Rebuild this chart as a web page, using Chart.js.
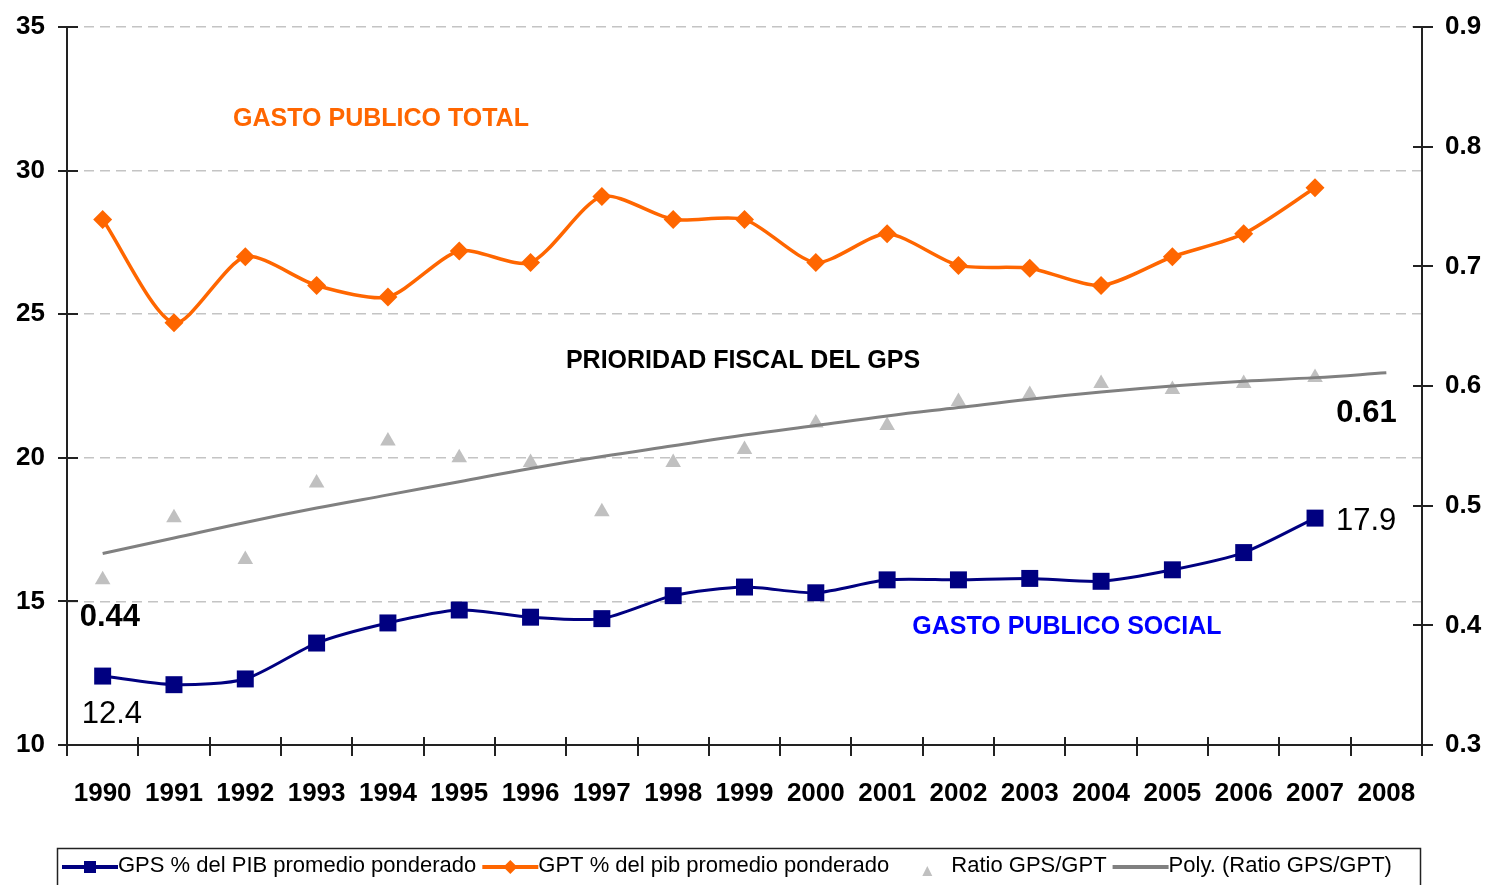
<!DOCTYPE html>
<html>
<head>
<meta charset="utf-8">
<script src="https://cdn.jsdelivr.net/npm/chart.js@4.4.1/dist/chart.umd.min.js"></script>
<style>
  html, body { margin: 0; padding: 0; background: #fff; }
  #wrap { width: 1490px; height: 885px; }
</style>
</head>
<body>
<div id="wrap"><canvas id="c" width="1490" height="885"></canvas></div>
<script>
// ---- Data ----
const years = ['1990','1991','1992','1993','1994','1995','1996','1997','1998','1999','2000','2001','2002','2003','2004','2005','2006','2007','2008'];
const gps = [12.4, 12.1, 12.3, 13.55, 14.25, 14.7, 14.45, 14.4, 15.2, 15.5, 15.3, 15.75, 15.75, 15.8, 15.7, 16.1, 16.7, 17.9, null];
const gpt = [28.3, 24.7, 27.0, 26.0, 25.6, 27.2, 26.8, 29.1, 28.3, 28.3, 26.8, 27.8, 26.7, 26.6, 26.0, 27.0, 27.8, 29.4, null];
const ratio = [0.438, 0.49, 0.455, 0.519, 0.554, 0.54, 0.536, 0.495, 0.536, 0.547, 0.569, 0.567, 0.587, 0.593, 0.602, 0.597, 0.602, 0.607, null];
const polyRatio = [0.46, 0.473, 0.486, 0.498, 0.509, 0.52, 0.531, 0.541, 0.55, 0.559, 0.567, 0.575, 0.582, 0.589, 0.595, 0.6, 0.604, 0.607, 0.611];
const leftTicks = [10, 15, 20, 25, 30, 35];
const rightTicks = [0.3, 0.4, 0.5, 0.6, 0.7, 0.8, 0.9];
const labels = {
  total: 'GASTO PUBLICO TOTAL',
  social: 'GASTO PUBLICO SOCIAL',
  prioridad: 'PRIORIDAD FISCAL DEL GPS',
  gpsFirst: '12.4', gpsLast: '17.9', ratioFirst: '0.44', ratioLast: '0.61'
};
const seriesNames = ['GPS % del PIB promedio ponderado', 'GPT % del pib promedio ponderado', 'Ratio GPS/GPT', 'Poly. (Ratio GPS/GPT)'];

const FONT = '"Liberation Sans", Arial, sans-serif';
const NAVY = '#000080', ORANGE = '#FF6600', TRI = '#C0C0C0', POLY = '#808080', AXIS = '#222222';

// crossing tick marks
const crossTicks = {
  id: 'crossTicks',
  afterDraw(chart) {
    const ctx = chart.ctx, ca = chart.chartArea;
    const yl = chart.scales.y, yr = chart.scales.y2;
    ctx.save();
    ctx.strokeStyle = AXIS; ctx.lineWidth = 2;
    ctx.beginPath();
    leftTicks.forEach(v => { const p = Math.round(yl.getPixelForValue(v)); ctx.moveTo(ca.left - 9, p); ctx.lineTo(ca.left + 11, p); });
    rightTicks.forEach(v => { const p = Math.round(yr.getPixelForValue(v)); ctx.moveTo(ca.right - 9, p); ctx.lineTo(ca.right + 11, p); });
    const n = years.length, w = (ca.right - ca.left) / n;
    for (let i = 0; i <= n; i++) { const p = Math.round(ca.left + i * w); ctx.moveTo(p, ca.bottom - 8); ctx.lineTo(p, ca.bottom + 11); }
    ctx.stroke();
    ctx.restore();
  }
};

// text annotations
const annotations = {
  id: 'annotations',
  afterDatasetsDraw(chart) {
    const ctx = chart.ctx, x = chart.scales.x, yl = chart.scales.y, yr = chart.scales.y2;
    ctx.save();
    ctx.textBaseline = 'middle';
    const put = (t, px, py, font, color, align) => { ctx.font = font; ctx.fillStyle = color; ctx.textAlign = align; ctx.fillText(t, px, py); };
    put(labels.total, 381, 119, 'bold 25px ' + FONT, ORANGE, 'center');
    put(labels.prioridad, 743, 361, 'bold 25px ' + FONT, '#000000', 'center');
    put(labels.social, 1067, 627, 'bold 25px ' + FONT, '#0000FF', 'center');
    const x0 = x.getPixelForValue(0), x17 = x.getPixelForValue(17);
    put(labels.ratioFirst, x0 - 23, yr.getPixelForValue(ratio[0]) + 38, 'bold 31px ' + FONT, '#000000', 'left');
    put(labels.gpsFirst, x0 - 21, yl.getPixelForValue(gps[0]) + 38, '31px ' + FONT, '#000000', 'left');
    put(labels.gpsLast, x17 + 21, yl.getPixelForValue(gps[17]) + 3, '31px ' + FONT, '#000000', 'left');
    put(labels.ratioLast, x.getPixelForValue(18) - 50, yr.getPixelForValue(polyRatio[18]) + 41, 'bold 31px ' + FONT, '#000000', 'left');
    ctx.restore();
  }
};

// Excel-like legend box
const boxLegend = {
  id: 'boxLegend',
  afterDraw(chart) {
    const ctx = chart.ctx;
    const top = 848, left = 57, right = 1420, bottom = 884, cy = 866;
    ctx.save();
    ctx.strokeStyle = '#222'; ctx.lineWidth = 1.5;
    ctx.strokeRect(left + 0.5, top + 0.5, right - left, bottom - top + 4);
    ctx.font = '22px ' + FONT; ctx.textBaseline = 'middle'; ctx.textAlign = 'left'; ctx.fillStyle = '#000';
    let cx = 62;
    const sw = 56;
    chart.data.datasets.forEach((ds) => {
      const mid = cx + sw / 2;
      if (ds.showLine !== false) {
        ctx.strokeStyle = ds.borderColor; ctx.lineWidth = 4;
        ctx.beginPath(); ctx.moveTo(cx, cy + 1); ctx.lineTo(cx + sw, cy + 1); ctx.stroke();
      }
      ctx.fillStyle = ds.pointBackgroundColor || ds.borderColor;
      if (ds.pointStyle === 'rect') { ctx.fillRect(mid - 6, cy - 5, 12, 12); }
      else if (ds.pointStyle === 'rectRot') { ctx.beginPath(); ctx.moveTo(mid, cy - 6); ctx.lineTo(mid + 7, cy + 1); ctx.lineTo(mid, cy + 8); ctx.lineTo(mid - 7, cy + 1); ctx.closePath(); ctx.fill(); }
      else if (ds.pointStyle === 'triangle') { ctx.beginPath(); ctx.moveTo(mid + 4, cy + 0); ctx.lineTo(mid + 9, cy + 10); ctx.lineTo(mid - 1, cy + 10); ctx.closePath(); ctx.fill(); }
      ctx.fillStyle = '#000';
      ctx.fillText(ds.label, cx + sw, cy);
      cx += sw + ctx.measureText(ds.label).width + 6;
    });
    ctx.restore();
  }
};

const noVPad = s => { s.paddingTop = 0; s.paddingBottom = 0; };

new Chart(document.getElementById('c'), {
  type: 'line',
  data: {
    labels: years,
    datasets: [
      { label: seriesNames[0], data: gps, yAxisID: 'y', borderColor: NAVY, backgroundColor: NAVY, borderWidth: 3,
        pointStyle: 'rect', pointRadius: 12, pointHoverRadius: 12, pointBackgroundColor: NAVY, pointBorderWidth: 0,
        tension: 0.25, order: 1 },
      { label: seriesNames[1], data: gpt, yAxisID: 'y', borderColor: ORANGE, backgroundColor: ORANGE, borderWidth: 3.5,
        pointStyle: 'rectRot', pointRadius: 9.5, pointHoverRadius: 9.5, pointBackgroundColor: ORANGE, pointBorderWidth: 0,
        tension: 0.25, order: 2 },
      { label: seriesNames[2], data: ratio, yAxisID: 'y2', showLine: false, borderColor: TRI, backgroundColor: TRI,
        pointStyle: 'triangle', pointRadius: 9, pointHoverRadius: 9, pointBackgroundColor: TRI, pointBorderWidth: 0, order: 4 },
      { label: seriesNames[3], data: polyRatio, yAxisID: 'y2', borderColor: POLY, backgroundColor: POLY, borderWidth: 3,
        pointRadius: 0, pointHoverRadius: 0, tension: 0.4, order: 3 }
    ]
  },
  options: {
    responsive: false,
    animation: false,
    devicePixelRatio: 1,
    layout: { padding: { top: 27, left: 0, right: 0, bottom: 0 } },
    plugins: { legend: { display: false }, tooltip: { enabled: false } },
    scales: {
      x: {
        type: 'category', offset: true,
        grid: { display: true, offset: true, drawOnChartArea: false, drawTicks: false, color: AXIS },
        border: { display: true, color: AXIS, width: 2 },
        ticks: { autoSkip: false, maxRotation: 0, padding: 33, color: '#000', font: { family: FONT, size: 26, weight: 'bold' } },
        afterFit(s) { s.height = 140; s.paddingLeft = 0; s.paddingRight = 0; }
      },
      y: {
        position: 'left', min: 10, max: 35,
        afterBuildTicks(s) { s.ticks = leftTicks.map(v => ({ value: v })); },
        grid: { drawTicks: false, color: c => (c.tick && c.tick.value === 10) ? 'rgba(0,0,0,0)' : '#C4C4C4', lineWidth: 1.5 },
        border: { display: true, color: AXIS, width: 2, dash: [10, 6] },
        ticks: { padding: 22, color: '#000', font: { family: FONT, size: 26, weight: 'bold' } },
        afterFit(s) { s.width = 67; noVPad(s); }
      },
      y2: {
        position: 'right', min: 0.3, max: 0.9,
        afterBuildTicks(s) { s.ticks = rightTicks.map(v => ({ value: v })); },
        grid: { drawOnChartArea: false, drawTicks: false },
        border: { display: true, color: AXIS, width: 2 },
        ticks: { padding: 23, color: '#000', font: { family: FONT, size: 26, weight: 'bold' }, callback: v => Number(v).toFixed(1) },
        afterFit(s) { s.width = 68; noVPad(s); }
      }
    }
  },
  plugins: [crossTicks, annotations, boxLegend]
});
</script>
</body>
</html>
